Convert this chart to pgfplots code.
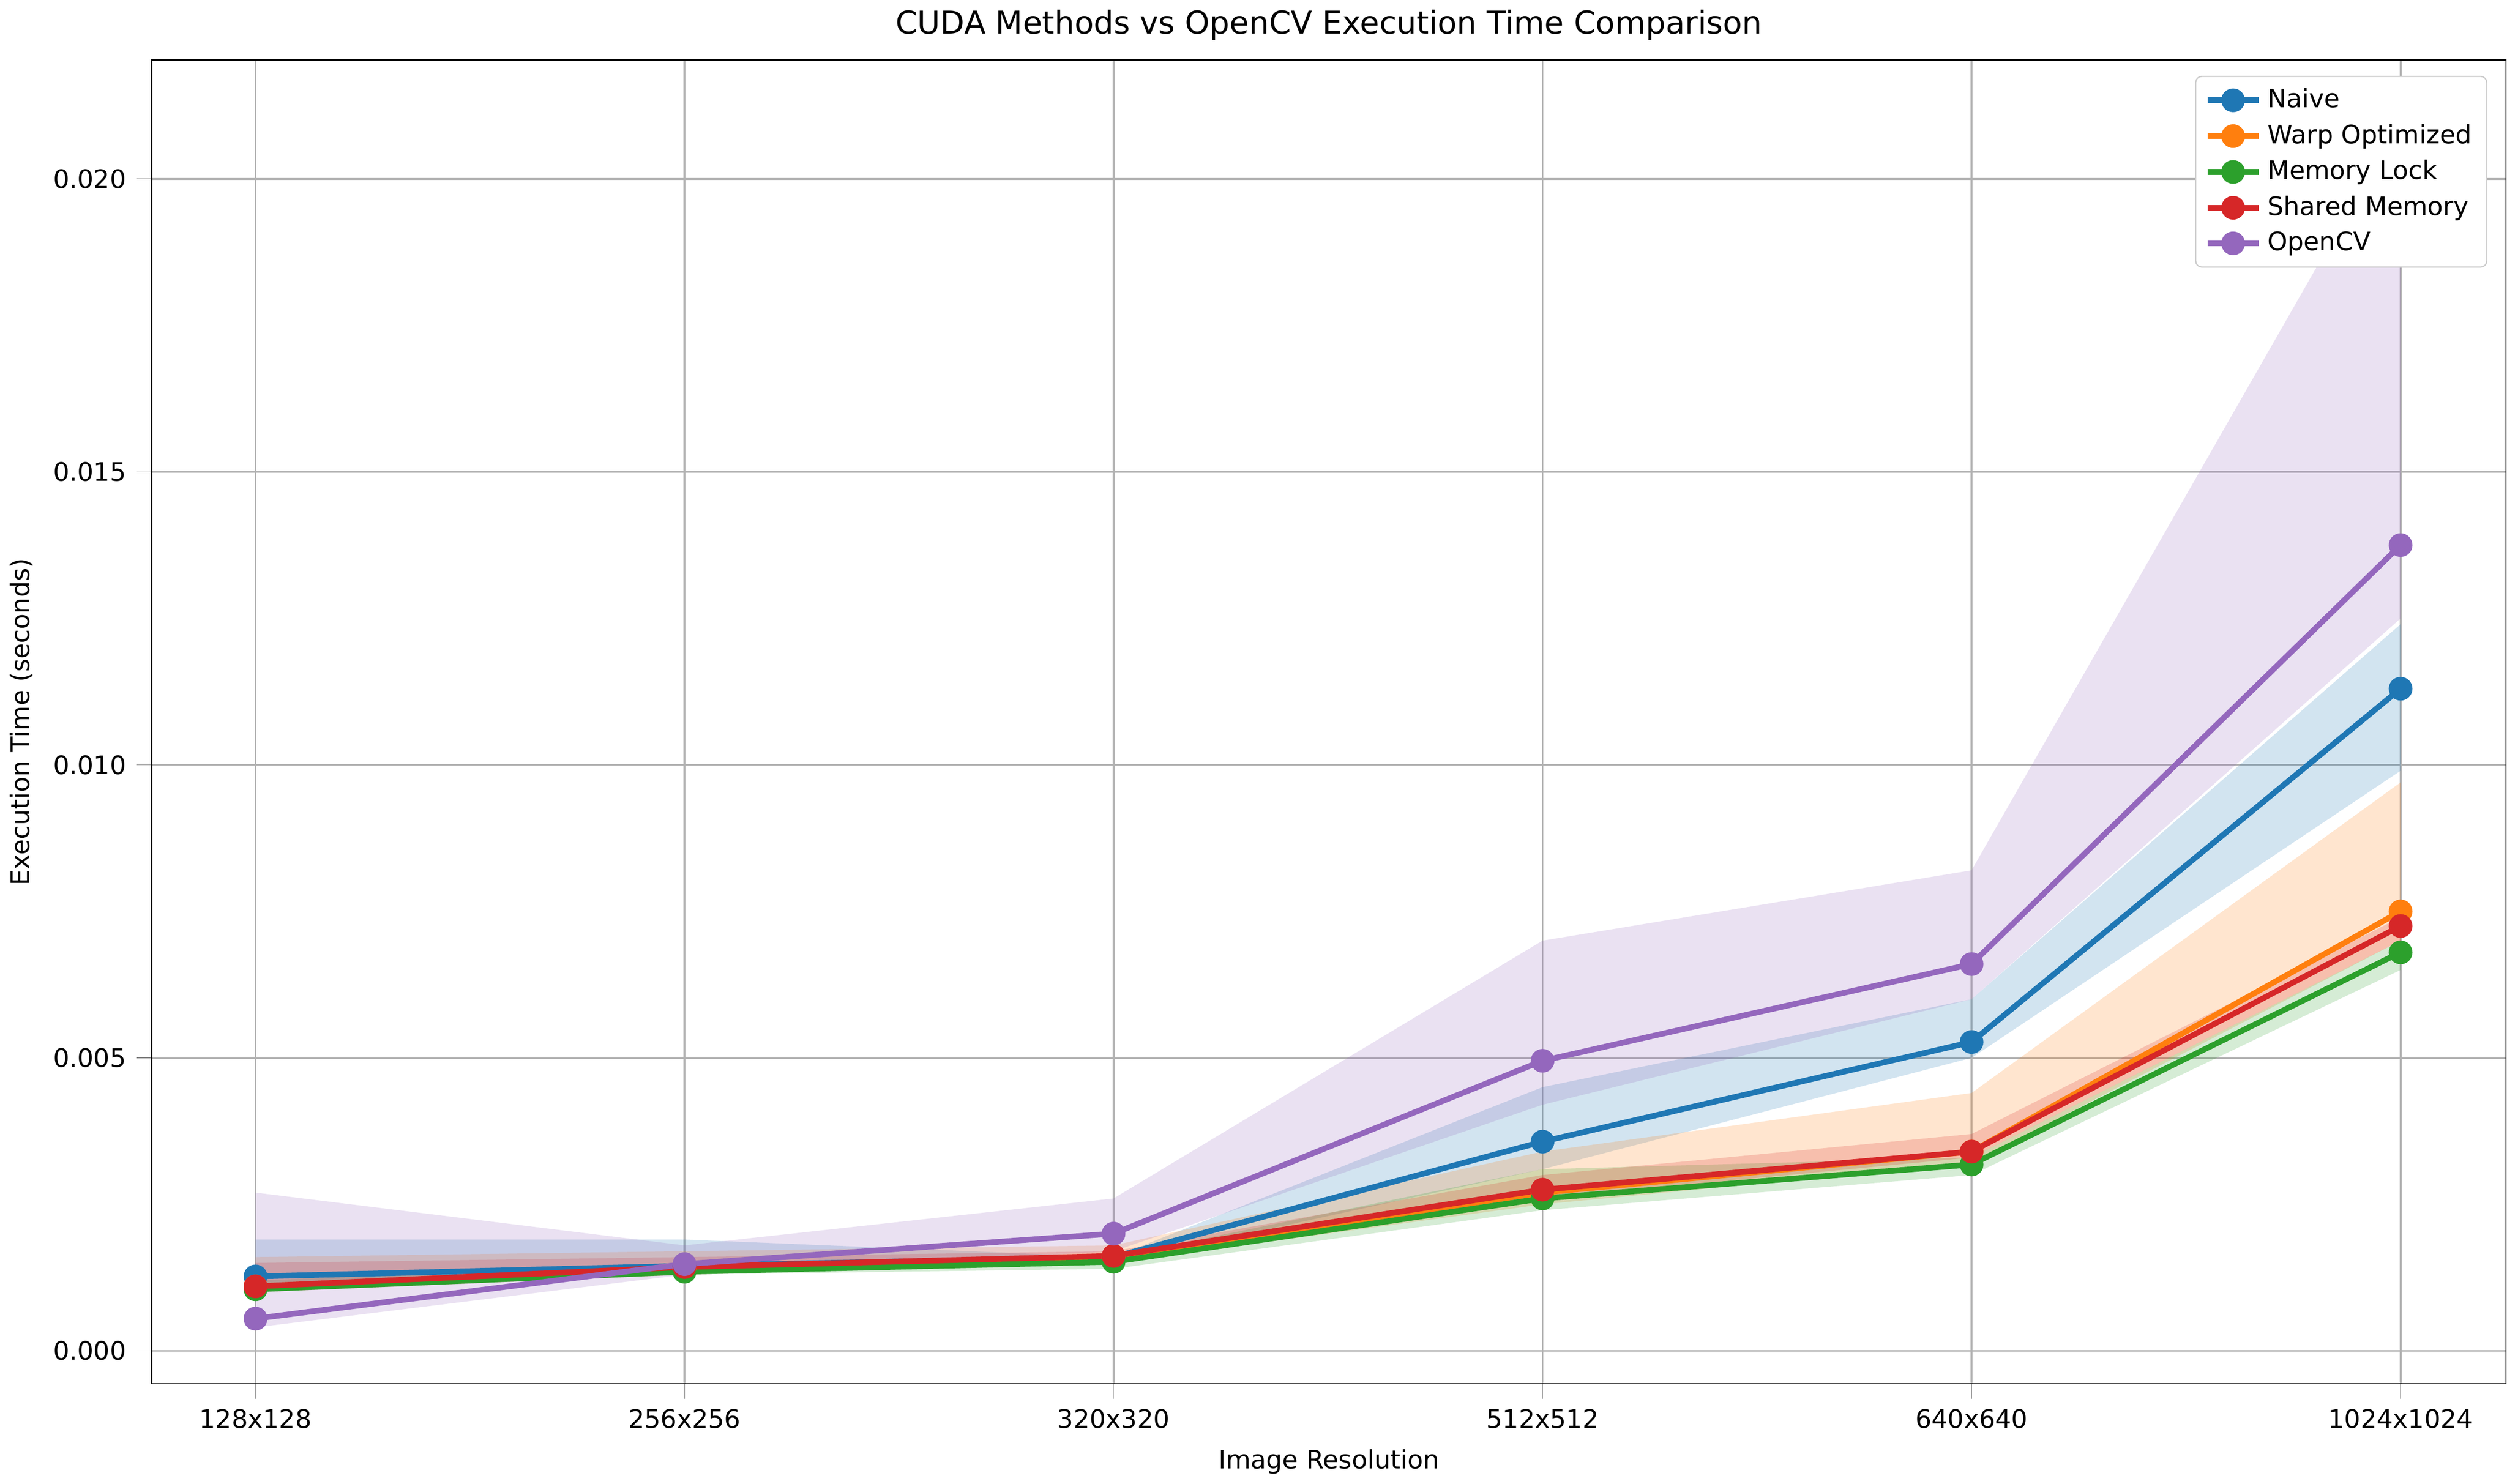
\documentclass[border=0pt]{standalone}
\usepackage{pgfplots}
\pgfplotsset{compat=1.18}
\usepackage{fontspec}
\setmainfont{DejaVu Sans}
\definecolor{c1}{HTML}{1F77B4}
\definecolor{c2}{HTML}{FF7F0E}
\definecolor{c3}{HTML}{2CA02C}
\definecolor{c4}{HTML}{D62728}
\definecolor{c5}{HTML}{9467BD}
\begin{document}
\begin{tikzpicture}
\begin{axis}[
  scale only axis, width=786pt, height=442pt,
  xmin=-0.242, xmax=5.246, ymin=-0.000563, ymax=0.02203,
  xtick={0,1,2,3,4,5},
  xticklabels={128x128,256x256,320x320,512x512,640x640,1024x1024},
  ytick={0,0.005,0.010,0.015,0.020},
  scaled y ticks=false,
  yticklabel style={/pgf/number format/.cd,fixed,fixed zerofill,precision=3},
  /pgf/number format/assume math mode=true,
  tick align=outside, xtick pos=bottom, ytick pos=left,
  major tick length=5pt,
  tick label style={font=\fontsize{8.5}{10}\selectfont},
  label style={font=\fontsize{8.5}{10}\selectfont},
  grid=major, grid style={gray!60, line width=0.6pt},
  xlabel={Image Resolution}, ylabel={Execution Time (seconds)},
  title={CUDA Methods vs OpenCV Execution Time Comparison},
  title style={font=\fontsize{10.5}{12}\selectfont, yshift=-3pt},
  legend style={at={(0.992,0.988)}, anchor=north east, font=\fontsize{8.5}{11.5}\selectfont, draw=gray!40, rounded corners=2pt},
  legend cell align=left,
  every axis plot/.append style={line width=1.9pt, mark=*, mark size=3pt},
]
\addplot[forget plot, fill=c1, fill opacity=0.2, draw=none, mark=none] coordinates {(0,0.0019)(1,0.0019)(2,0.0016)(3,0.0045)(4,0.0060)(5,0.0124)(5,0.0099)(4,0.0050)(3,0.0031)(2,0.0015)(1,0.0013)(0,0.0011)} --cycle;
\addplot[forget plot, fill=c2, fill opacity=0.2, draw=none, mark=none] coordinates {(0,0.0016)(1,0.0017)(2,0.0018)(3,0.0034)(4,0.0044)(5,0.0097)(5,0.0070)(4,0.0032)(3,0.0025)(2,0.0015)(1,0.0013)(0,0.0010)} --cycle;
\addplot[forget plot, fill=c3, fill opacity=0.2, draw=none, mark=none] coordinates {(0,0.0012)(1,0.0015)(2,0.0016)(3,0.0031)(4,0.0033)(5,0.0070)(5,0.0065)(4,0.0030)(3,0.0024)(2,0.0014)(1,0.0013)(0,0.0010)} --cycle;
\addplot[forget plot, fill=c4, fill opacity=0.2, draw=none, mark=none] coordinates {(0,0.0015)(1,0.0016)(2,0.0017)(3,0.0030)(4,0.0037)(5,0.0074)(5,0.0070)(4,0.0033)(3,0.0026)(2,0.0015)(1,0.0013)(0,0.0010)} --cycle;
\addplot[forget plot, fill=c5, fill opacity=0.2, draw=none, mark=none] coordinates {(0,0.0027)(1,0.0018)(2,0.0026)(3,0.0070)(4,0.0082)(5,0.0210)(5,0.0125)(4,0.0060)(3,0.0042)(2,0.0017)(1,0.0013)(0,0.0004)} --cycle;
\addplot[c1] coordinates {(0,0.00127)(1,0.00145)(2,0.0016)(3,0.00357)(4,0.00527)(5,0.0113)};
\addlegendentry{Naive}
\addplot[c2] coordinates {(0,0.0011)(1,0.0014)(2,0.0016)(3,0.0027)(4,0.0034)(5,0.0075)};
\addlegendentry{Warp Optimized}
\addplot[c3] coordinates {(0,0.00105)(1,0.00135)(2,0.00152)(3,0.0026)(4,0.00318)(5,0.0068)};
\addlegendentry{Memory Lock}
\addplot[c4] coordinates {(0,0.0011)(1,0.00143)(2,0.00162)(3,0.00275)(4,0.0034)(5,0.00725)};
\addlegendentry{Shared Memory}
\addplot[c5] coordinates {(0,0.00055)(1,0.00148)(2,0.0020)(3,0.00495)(4,0.0066)(5,0.01375)};
\addlegendentry{OpenCV}
\end{axis}
\end{tikzpicture}
\end{document}
